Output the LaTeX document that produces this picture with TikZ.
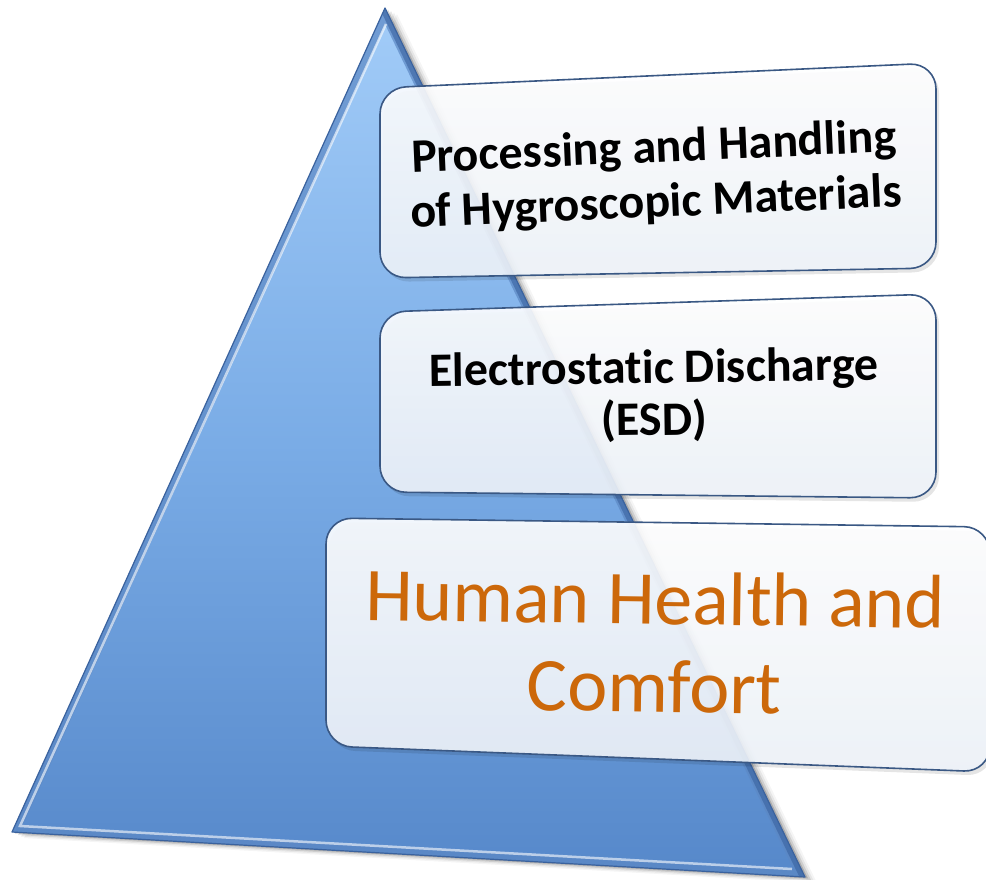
\documentclass[tikz,border=0pt]{standalone}
\usepackage{fontspec}
\setmainfont{Carlito}[RawFeature=-liga]
\definecolor{tritop}{RGB}{162,204,248}
\definecolor{trimid}{RGB}{122,172,230}
\definecolor{tribot}{RGB}{86,136,202}
\definecolor{bevel}{RGB}{92,136,196}
\definecolor{edgeblue}{RGB}{58,98,158}
\definecolor{boxline}{RGB}{58,88,132}
\definecolor{orangetext}{RGB}{204,104,10}
\tikzset{
  boxfill/.style={top color=white, bottom color={rgb,255:red,238;green,243;blue,250}, fill opacity=0.9, rounded corners=26pt},
  boxedge/.style={draw=boxline, line width=1.6pt, rounded corners=26pt},
  boxshadow/.style={fill=black, fill opacity=0.10, rounded corners=26pt},
  boldtext/.style={align=center, inner sep=0pt, font=\fontsize{48}{52}\selectfont\bfseries, text=black},
  bigtext/.style={align=center, inner sep=0pt, font=\fontsize{76}{88}\selectfont, text=orangetext}
}
\newcommand{\tripath}{(385,8) -- (12,832) -- (805,877) -- cycle}
\begin{document}
\begin{tikzpicture}[x=1pt,y=-1pt]
\useasboundingbox (0,0) rectangle (986,879);
\fill[white] (0,0) rectangle (986,879);
% triangle shadow
\foreach \d/\o in {12/0.04,9/0.06,6/0.10,3/0.16}{
  \fill[black, opacity=\o, shift={(\d,0.5*\d)}] \tripath;
}
% triangle body
\shade[top color=tritop, bottom color=tribot, middle color=trimid] \tripath;
\begin{scope}
  \clip \tripath;
  \draw[bevel, line width=14pt, opacity=0.7] \tripath;
  \draw[edgeblue, line width=10pt, opacity=0.6] (385,8) -- (805,877);
  \draw[white, line width=2.5pt, opacity=0.6] (386,24) -- (20,826) -- (792,869);
\end{scope}
\draw[edgeblue, line width=1.2pt, line join=round] \tripath;
% boxes
\foreach \sx/\sy in {3/4}{
  \fill[boxshadow, shift={(\sx,\sy)}] (380,88) -- (936,63) -- (936,268) -- (380,278) -- cycle;
  \fill[boxshadow, shift={(\sx,\sy)}] (380,312) -- (936,294) -- (936,498) -- (380,492) -- cycle;
  \fill[boxshadow, shift={(\sx,\sy)}] (326,518) -- (990,527) -- (990,772) -- (326,746) -- cycle;
}
\shade[boxfill] (380,88) -- (936,63) -- (936,268) -- (380,278) -- cycle;
\draw[boxedge] (380,88) -- (936,63) -- (936,268) -- (380,278) -- cycle;
\shade[boxfill] (380,312) -- (936,294) -- (936,498) -- (380,492) -- cycle;
\draw[boxedge] (380,312) -- (936,294) -- (936,498) -- (380,492) -- cycle;
\shade[boxfill] (326,518) -- (990,527) -- (990,772) -- (326,746) -- cycle;
\draw[boxedge] (326,518) -- (990,527) -- (990,772) -- (326,746) -- cycle;
% texts
\node[boldtext, font=\fontsize{48}{55}\selectfont\bfseries, rotate=2.5] (t1) at (655,177) {Processing and Handling\\of Hygroscopic Materials};
\node[boldtext, rotate=0.8] (t2) at (654,396) {Electrostatic Discharge\\(ESD)};
\node[bigtext, rotate=-0.8] (t3) at (655,642) {Human Health and\\Comfort};
\end{tikzpicture}
\end{document}
